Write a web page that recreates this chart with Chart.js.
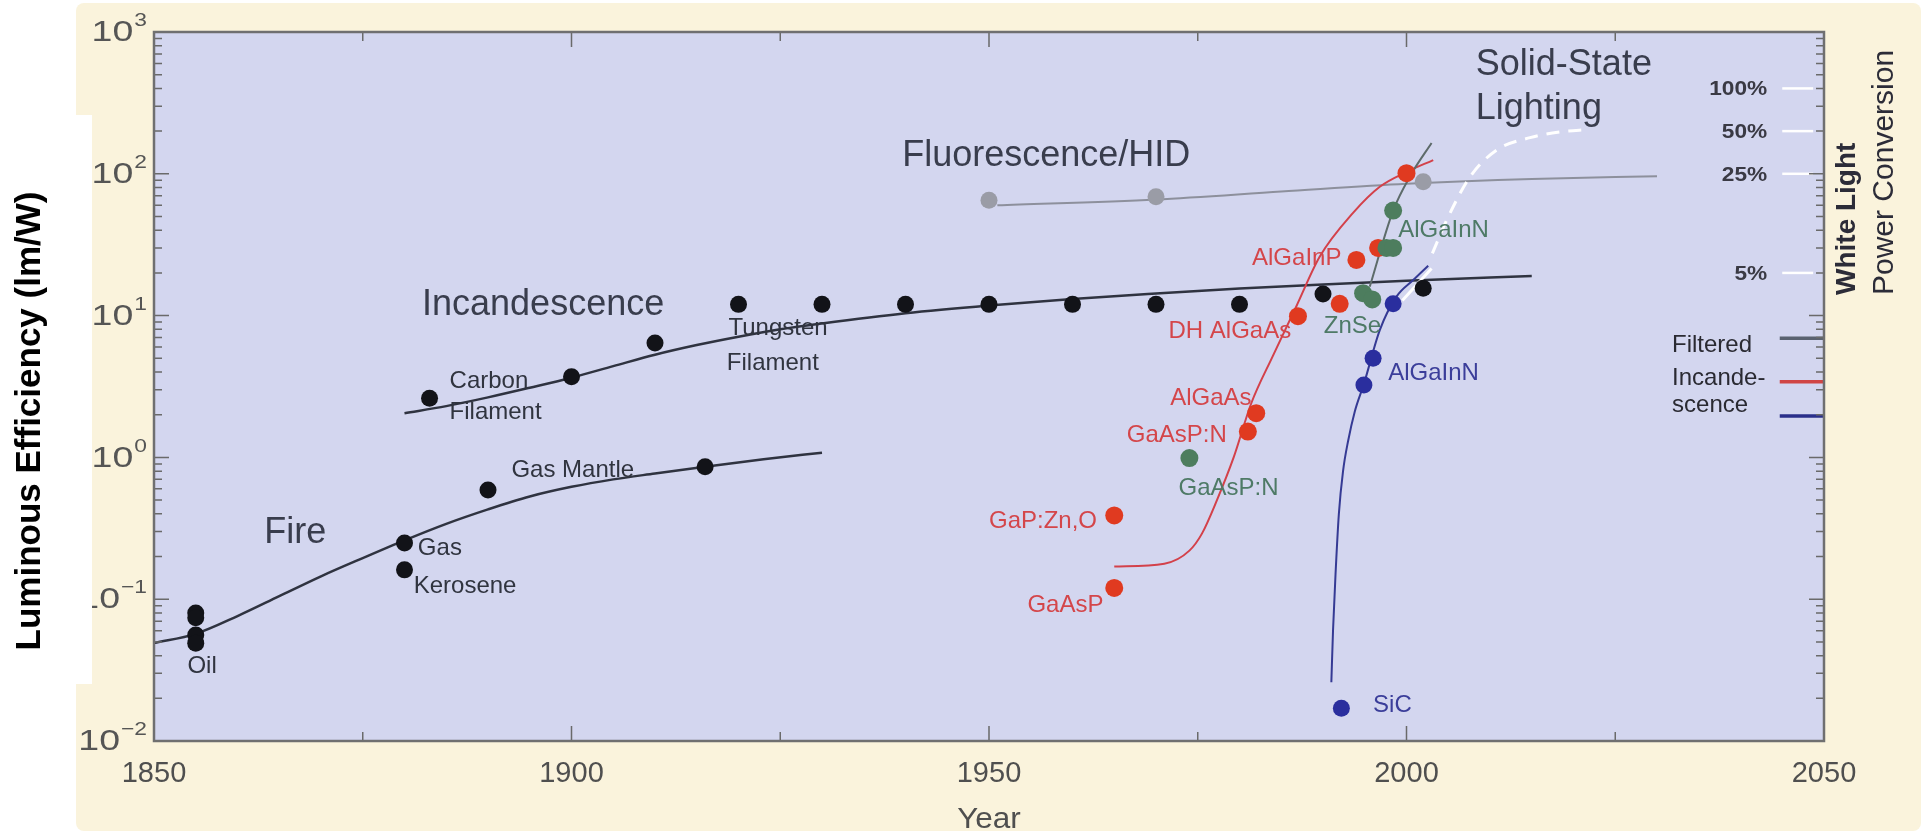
<!DOCTYPE html>
<html>
<head>
<meta charset="utf-8">
<script src="https://cdn.jsdelivr.net/npm/chart.js@4.4.0/dist/chart.umd.min.js"></script>
<style>
  html, body { margin: 0; padding: 0; background: #fff; }
  canvas { display: block; }
</style>
</head>
<body>
<canvas id="chart" width="1932" height="836"></canvas>
<script>
// curves: [year, lm/W]
const fireCurve = [[1850, 0.049], [1855, 0.057], [1860, 0.076], [1865, 0.105], [1870, 0.145], [1875, 0.195], [1880, 0.26], [1885, 0.34], [1890, 0.43], [1895, 0.53], [1900, 0.62], [1905, 0.70], [1910, 0.77], [1916, 0.86], [1923, 0.97], [1930, 1.08]];
const incandescenceCurve = [[1880, 2.05], [1885, 2.3], [1890, 2.65], [1895, 3.1], [1900, 3.65], [1905, 4.4], [1910, 5.3], [1915, 6.2], [1920, 7.1], [1925, 8.0], [1930, 8.8], [1940, 10.4], [1950, 11.8], [1960, 13.1], [1970, 14.3], [1980, 15.5], [1990, 16.6], [2000, 17.6], [2015, 19]];
const fluorescenceCurve = [[1951, 60], [1970, 66], [1985, 75], [2000, 85], [2015, 92], [2030, 96]];
const ledRedCurve = [[1965, 0.17], [1971, 0.178], [1974, 0.22], [1975.5, 0.29], [1977.3, 0.5], [1979.3, 1.0], [1981.4, 2.4], [1984, 5.2], [1986.8, 11.6], [1989.6, 26], [1993.6, 53], [1996.8, 81], [2000, 103], [2003.2, 125]];
const ledGreyCurve = [[1995.6, 16], [1998.4, 55], [2000.6, 100], [2003, 165]];
const ledBlueCurve = [[1991, 0.026], [1991.2, 0.06], [1991.5, 0.15], [1991.9, 0.4], [1992.4, 0.8], [1993, 1.3], [1993.8, 2.1], [1994.9, 3.3], [1996.8, 7.9], [1998.8, 13.6], [2000.8, 17.8], [2002.6, 22.5]];
const whiteSolid = [[1999.5, 12.8], [2003, 21.5]];
const whiteDashed = [[2003.1, 27.5], [2004.8, 47], [2007.6, 95], [2010.8, 147], [2014.8, 180], [2018.5, 198], [2021.8, 205]];

// measured points
const blackPoints = [[1855, 0.08], [1855, 0.074], [1855, 0.056], [1855, 0.049], [1880, 0.249], [1880, 0.161], [1883, 2.61], [1890, 0.59], [1900, 3.7], [1910, 6.4], [1916, 0.86], [1920, 12], [1930, 12], [1940, 12], [1950, 12], [1960, 12], [1970, 12], [1980, 12], [1990, 14.2], [2002, 15.6]];
const greyPoints = [[1950, 65], [1970, 69], [2002, 88]];
const redPoints = [[1965, 0.12], [1965, 0.39], [1981, 1.52], [1982, 2.05], [1987, 9.9], [1992, 12.1], [1994, 24.7], [1996.6, 30], [2000, 101]];
const greenPoints = [[1974, 0.99], [1994.8, 14.4], [1995.9, 13], [1997.6, 30], [1998.4, 30], [1998.4, 55]];
const bluePoints = [[1992.2, 0.017], [1994.9, 3.24], [1996, 5.0], [1998.4, 12.1]];

// axes
const xTickYears = [1850, 1900, 1950, 2000, 2050];
const yTickExps = [3, 2, 1, 0, -1, -2];
const pctLabels = ['100%', '50%', '25%', '5%'];
const pctValues = [400, 200, 100, 20];
const legendNames = ['Filtered', 'Incande-', 'scence'];
const legendTextValues = [5.56, 3.24, 2.1];
const legendLineValues = [6.92, 3.42, 1.96];

// text notes: [text, year, value, kind]
const notes = [
  ['Incandescence', 1882.1, 10.1, 'big'],
  ['Fire', 1863.2, 0.248, 'big'],
  ['Fluorescence/HID', 1939.6, 114, 'big'],
  ['Solid-State', 2008.3, 497, 'big'],
  ['Lighting', 2008.3, 243, 'big'],
  ['Carbon', 1885.4, 3.09, 'black'],
  ['Filament', 1885.4, 1.86, 'black'],
  ['Gas Mantle', 1892.8, 0.73, 'black'],
  ['Gas', 1881.6, 0.205, 'black'],
  ['Kerosene', 1881.1, 0.11, 'black'],
  ['Oil', 1854.0, 0.030, 'black'],
  ['Tungsten', 1918.8, 7.3, 'black'],
  ['Filament', 1918.6, 4.13, 'black'],
  ['DH AlGaAs', 1971.5, 6.92, 'red'],
  ['AlGaInP', 1981.5, 22.7, 'red'],
  ['AlGaAs', 1971.7, 2.34, 'red'],
  ['GaAsP:N', 1966.5, 1.29, 'red'],
  ['GaP:Zn,O', 1950.0, 0.318, 'red'],
  ['GaAsP', 1954.6, 0.0817, 'red'],
  ['GaAsP:N', 1972.7, 0.543, 'green'],
  ['AlGaInN', 1999.0, 36.0, 'green'],
  ['ZnSe', 1990.1, 7.5, 'green'],
  ['AlGaInN', 1997.8, 3.51, 'blue'],
  ['SiC', 1996.0, 0.0161, 'blue']
];

const FONT = '"Liberation Sans", Arial, Helvetica, sans-serif';
const noteStyle = {
  big: { size: 36, color: '#393d4d' },
  black: { size: 24, color: '#30343f' },
  red: { size: 24, color: '#d4464a' },
  green: { size: 24, color: '#4e7a66' },
  blue: { size: 24, color: '#3b3e9a' }
};
const legendColors = ['#5a6270', '#d04545', '#2a2f8a'];

const pts = arr => arr.map(([x, y]) => ({ x, y }));

function curve(data, color, width, order, extra) {
  return Object.assign({
    data: pts(data), showLine: true, borderColor: color, borderWidth: width,
    pointRadius: 0, fill: false, cubicInterpolationMode: 'monotone', order
  }, extra || {});
}

function dots(data, color, r, order) {
  return {
    data: pts(data), showLine: false, backgroundColor: color, borderColor: color,
    borderWidth: 0, pointRadius: r, order
  };
}

function txt(ctx, s, x, y, font, color, align, sx) {
  ctx.save();
  ctx.font = font;
  ctx.fillStyle = color;
  ctx.textAlign = align || 'left';
  ctx.translate(x, y);
  ctx.scale(sx || 1, 1);
  ctx.fillText(s, 0, 0);
  ctx.restore();
}

const decor = {
  id: 'decor',
  beforeDraw(chart) {
    const { ctx, chartArea: a, width, height } = chart;
    ctx.save();
    ctx.fillStyle = '#ffffff';
    ctx.fillRect(0, 0, width, height);
    ctx.fillStyle = '#faf3dc';
    ctx.beginPath();
    ctx.roundRect(76, 3, 1845, 828, 8);
    ctx.fill();
    ctx.fillStyle = '#d3d6ef';
    ctx.fillRect(a.left, a.top, a.width, a.height);
    ctx.restore();
  },
  afterDraw(chart) {
    const { ctx, chartArea: a } = chart;
    const xs = chart.scales.x, ys = chart.scales.y;
    ctx.save();

    // tick marks, all pointing inward
    ctx.strokeStyle = '#6a6a6a';
    ctx.lineWidth = 1.5;
    ctx.beginPath();
    for (let yr = 1850; yr <= 2050; yr += 25) {
      const px = xs.getPixelForValue(yr);
      const len = yr % 50 === 0 ? 15 : 9;
      ctx.moveTo(px, a.bottom); ctx.lineTo(px, a.bottom - len);
      ctx.moveTo(px, a.top); ctx.lineTo(px, a.top + len);
    }
    for (let e = -2; e <= 2; e++) {
      for (let m = 1; m <= 9; m++) {
        const py = ys.getPixelForValue(m * Math.pow(10, e));
        const len = m === 1 ? 15 : 8;
        ctx.moveTo(a.left, py); ctx.lineTo(a.left + len, py);
        ctx.moveTo(a.right, py); ctx.lineTo(a.right - len, py);
      }
    }
    ctx.stroke();

    // frame
    ctx.strokeStyle = '#6f6f70';
    ctx.lineWidth = 2.5;
    ctx.strokeRect(a.left, a.top, a.width, a.height);

    // x tick labels
    ctx.textBaseline = 'alphabetic';
    xTickYears.forEach(yr => {
      txt(ctx, String(yr), xs.getPixelForValue(yr), a.bottom + 41, '29px ' + FONT, '#4f4f4f', 'center', 1.0);
    });
    txt(ctx, 'Year', (a.left + a.right) / 2, 828, '30px ' + FONT, '#4f4f4f', 'center', 1.05);

    // y tick labels 10^n
    ctx.textBaseline = 'middle';
    const right = a.left - 7;
    yTickExps.forEach(e => {
      const py = ys.getPixelForValue(Math.pow(10, e));
      const ex = String(e).replace('-', '\u2212');
      ctx.font = '19px ' + FONT;
      const ew = ctx.measureText(ex).width * 1.2;
      txt(ctx, ex, right - ew, py - 11, '19px ' + FONT, '#555555', 'left', 1.2);
      txt(ctx, '10', right - ew - 1, py + 1, '30px ' + FONT, '#555555', 'right', 1.25);
    });

    // white band with axis title
    ctx.fillStyle = '#ffffff';
    ctx.fillRect(0, 115, 92, 569);
    ctx.save();
    ctx.translate(30, a.top + 389);
    ctx.rotate(-Math.PI / 2);
    ctx.font = 'bold 35px ' + FONT;
    ctx.fillStyle = '#000000';
    ctx.textAlign = 'center';
    ctx.textBaseline = 'middle';
    ctx.fillText('Luminous Efficiency (lm/W)', 0, 0);
    ctx.restore();

    // notes
    ctx.textBaseline = 'alphabetic';
    notes.forEach(([s, yr, v, kind]) => {
      const st = noteStyle[kind];
      txt(ctx, s, xs.getPixelForValue(yr), ys.getPixelForValue(v), st.size + 'px ' + FONT, st.color, 'left', 1);
    });

    // right-hand percent labels
    ctx.textBaseline = 'middle';
    pctLabels.forEach((s, i) => {
      txt(ctx, s, xs.getPixelForValue(2043.2), ys.getPixelForValue(pctValues[i]) + 1, 'bold 21px ' + FONT, '#3a3a44', 'right', 1.08);
    });

    // legend text
    ctx.textBaseline = 'alphabetic';
    legendNames.forEach((s, i) => {
      txt(ctx, s, xs.getPixelForValue(2031.8), ys.getPixelForValue(legendTextValues[i]), '24px ' + FONT, '#2a2a32', 'left', 1);
    });

    // right axis title
    ctx.textBaseline = 'middle';
    ctx.fillStyle = '#2c2c38';
    ctx.textAlign = 'left';
    ctx.save();
    ctx.translate(a.right + 23, 295);
    ctx.rotate(-Math.PI / 2);
    ctx.font = 'bold 28px ' + FONT;
    ctx.fillText('White Light', 0, 0);
    ctx.restore();
    ctx.save();
    ctx.translate(a.right + 61, 295);
    ctx.rotate(-Math.PI / 2);
    ctx.font = '30px ' + FONT;
    ctx.fillText('Power Conversion', 0, 0);
    ctx.restore();

    ctx.restore();
  }
};

const datasets = [
  dots(blackPoints, '#121318', 8.5, 1),
  dots(bluePoints, '#2a2e9e', 8.5, 2),
  dots(greenPoints, '#4d7d5e', 9, 3),
  dots(redPoints, '#e03a20', 9, 4),
  dots(greyPoints, '#9a9ca6', 8.5, 5),
  curve(whiteDashed, '#ffffff', 3, 10, { borderDash: [13, 9] }),
  curve(whiteSolid, '#ffffff', 3, 10),
  curve(ledBlueCurve, '#353a94', 2, 11),
  curve(ledGreyCurve, '#5d6b6a', 2, 11),
  curve(ledRedCurve, '#d3414a', 2, 11),
  curve(fireCurve, '#2f3340', 2.5, 11),
  curve(incandescenceCurve, '#2f3340', 2.5, 11),
  curve(fluorescenceCurve, '#8d909c', 2, 12),
  ...pctValues.map(v => curve([[2045, v], [2048.7, v]], '#ffffff', 2.5, 9)),
  ...legendLineValues.map((v, i) => curve([[2044.7, v], [2050, v]], legendColors[i], 3.5, 9))
];

new Chart(document.getElementById('chart').getContext('2d'), {
  type: 'line',
  data: { datasets },
  options: {
    responsive: false,
    animation: false,
    devicePixelRatio: 1,
    events: [],
    layout: { padding: { left: 154, right: 108, top: 32, bottom: 95 } },
    scales: {
      x: { type: 'linear', min: 1850, max: 2050, display: false },
      y: { type: 'logarithmic', min: 0.01, max: 1000, display: false }
    },
    plugins: { legend: { display: false }, tooltip: { enabled: false } }
  },
  plugins: [decor]
});
</script>
</body>
</html>
